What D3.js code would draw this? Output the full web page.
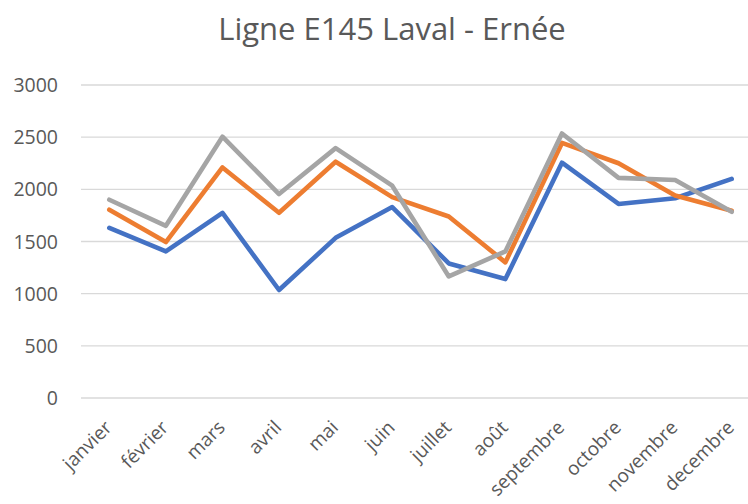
<!DOCTYPE html>
<html>
<head>
<meta charset="utf-8">
<script src="https://cdn.jsdelivr.net/npm/d3@7"></script>
<style>
  html, body { margin: 0; padding: 0; background: #fff; }
  svg { display: block; }
</style>
</head>
<body>
<svg id="chart" width="748" height="504"></svg>
<script>
  var months = ['janvier', 'février', 'mars', 'avril', 'mai', 'juin', 'juillet', 'août', 'septembre', 'octobre', 'novembre', 'decembre'];
  var yTicks = [0, 500, 1000, 1500, 2000, 2500, 3000];
  var series1 = [1630, 1405, 1775, 1035, 1535, 1830, 1290, 1140, 2255, 1860, 1915, 2100];
  var series2 = [1805, 1495, 2210, 1775, 2265, 1925, 1740, 1300, 2445, 2250, 1940, 1795];
  var series3 = [1900, 1650, 2505, 1955, 2395, 2035, 1165, 1405, 2535, 2110, 2090, 1785];
  var seriesNames = ['Série 1', 'Série 2', 'Série 3'];
  var seriesColors = ['#4472C4', '#ED7D31', '#A5A5A5'];

  var width = 748;
  var height = 504;
  var margin = {top: 85, right: -12, bottom: 106, left: 81};

  var svg = d3.select('#chart');
  var font = "'Open Sans', sans-serif";

  var x = d3.scaleBand()
    .domain(months)
    .range([margin.left, width - margin.right]);

  var y = d3.scaleLinear()
    .domain([0, 3000])
    .range([height - margin.bottom, margin.top]);

  var cx = function (d) { return x(d) + x.bandwidth() / 2; };

  // title
  svg.append('text')
    .attr('x', 392)
    .attr('y', 40)
    .attr('text-anchor', 'middle')
    .attr('font-family', font)
    .attr('font-size', 31)
    .attr('fill', '#595959')
    .text('Ligne E145 Laval - Ernée');

  // grid lines
  svg.append('g')
    .selectAll('line')
    .data(yTicks)
    .enter().append('line')
    .attr('x1', margin.left)
    .attr('x2', width)
    .attr('y1', d => y(d))
    .attr('y2', d => y(d))
    .attr('stroke', '#d9d9d9')
    .attr('stroke-width', 1.3);

  // y axis labels
  svg.append('g')
    .attr('font-family', font)
    .attr('font-size', 19.5)
    .attr('fill', '#595959')
    .selectAll('text')
    .data(yTicks)
    .enter().append('text')
    .attr('x', 58)
    .attr('y', d => y(d))
    .attr('dy', '0.36em')
    .attr('text-anchor', 'end')
    .text(d => d);

  // x axis labels
  svg.append('g')
    .attr('font-family', font)
    .attr('font-size', 19)
    .attr('fill', '#595959')
    .selectAll('text')
    .data(months)
    .enter().append('text')
    .attr('text-anchor', 'end')
    .attr('transform', d => `translate(${cx(d) - 1},${height - margin.bottom + 26}) rotate(-45)`)
    .attr('dy', '0.35em')
    .text(d => d);

  var line = d3.line()
    .x((d, i) => cx(months[i]))
    .y(d => y(d));

  var data = [series1, series2, series3].map((values, i) => {
    return {name: seriesNames[i], color: seriesColors[i], values: values};
  });

  svg.append('g')
    .attr('fill', 'none')
    .attr('stroke-width', 4.6)
    .attr('stroke-linejoin', 'round')
    .attr('stroke-linecap', 'round')
    .selectAll('path')
    .data(data)
    .enter().append('path')
    .attr('stroke', d => d.color)
    .attr('d', d => line(d.values));
</script>
</body>
</html>
